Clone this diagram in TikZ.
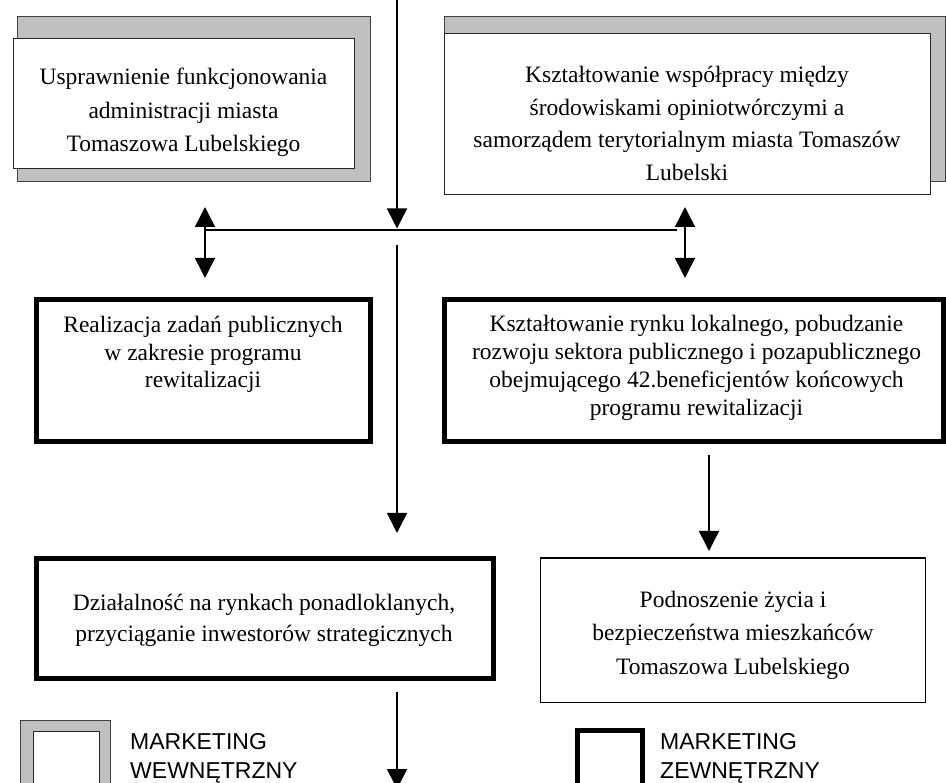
\documentclass[tikz,border=0pt]{standalone}
\usepackage{fontspec}
\setmainfont{Liberation Serif}
\newfontfamily\legfont{Liberation Sans}
\usetikzlibrary{arrows.meta}
\newcommand\stackc[1]{\vtop{\halign{\hfil##\hfil\cr#1\crcr}}}
\newcommand\stackl[1]{\vtop{\halign{##\hfil\cr#1\crcr}}}
\definecolor{shgray}{HTML}{C0C0C0}
\tikzset{
  shadowbox/.style={draw=black!75, line width=0.9pt, fill=shgray, inner sep=0pt, outer sep=0pt},
  whitebox/.style={draw=black!85, line width=0.9pt, fill=white, inner sep=0pt, outer sep=0pt},
  thickbox/.style={draw=black, line width=5pt, fill=white, inner sep=0pt, outer sep=0pt},
  thinbox/.style={draw=black, line width=1.5pt, fill=white, inner sep=0pt, outer sep=0pt},
  boxtext/.style={anchor=base, inner sep=0pt},
  legtext/.style={anchor=base west, inner sep=0pt, font=\legfont\fontsize{23}{28.3}\selectfont},
  conn/.style={line width=1.5pt, -{Triangle[length=20pt,width=20pt]}},
  dconn/.style={line width=1.5pt, {Triangle[length=20pt,width=20pt]}-{Triangle[length=20pt,width=20pt]}},
  hline/.style={line width=2.3pt}
}
\begin{document}
\begin{tikzpicture}[x=1pt,y=-1pt]
\useasboundingbox (0,0) rectangle (946,783);
% top-left box
\node[shadowbox, minimum width=353pt, minimum height=165pt] (s1) at (193.5,98.5) {};
\node[whitebox, minimum width=341pt, minimum height=130pt] (b1) at (183.5,103) {};
\node[boxtext, font=\fontsize{23.5}{33.3}\selectfont] (t1) at (183.5,85)
  {\stackc{Usprawnienie funkcjonowania\cr administracji miasta\cr Tomaszowa Lubelskiego}};
% top-right box
\node[shadowbox, minimum width=501pt, minimum height=165pt] (s2) at (694.5,98.5) {};
\node[whitebox, minimum width=486.7pt, minimum height=160.5pt] (b2) at (687.35,113.75) {};
\node[boxtext, font=\fontsize{23.5}{32.5}\selectfont] (t2) at (687,83)
  {\stackc{Kształtowanie współpracy między\cr środowiskami opiniotwórczymi a\cr samorządem terytorialnym miasta Tomaszów\cr Lubelski}};
% second row
\node[thickbox, minimum width=333.7pt, minimum height=142.3pt] (b3) at (203.35,370.35) {};
\node[boxtext, font=\fontsize{23.5}{27.5}\selectfont] (t3) at (203,332.7)
  {\stackc{Realizacja zadań publicznych\cr w zakresie programu\cr rewitalizacji}};
\node[thickbox, minimum width=499.3pt, minimum height=142.3pt] (b4) at (693.85,370.35) {};
\node[boxtext, font=\fontsize{23.5}{28}\selectfont] (t4) at (696.5,331.7)
  {\stackc{Kształtowanie rynku lokalnego, pobudzanie\cr rozwoju sektora publicznego i pozapublicznego\cr obejmującego 42.beneficjentów końcowych\cr programu rewitalizacji}};
% third row
\node[thickbox, minimum width=456.7pt, minimum height=119.7pt] (b5) at (264.85,618.35) {};
\node[boxtext, font=\fontsize{23.5}{31.7}\selectfont] (t5) at (264,610)
  {\stackc{Działalność na rynkach ponadloklanych,\cr przyciąganie inwestorów strategicznych}};
\node[thinbox, minimum width=385pt, minimum height=144.7pt] (b6) at (733.2,630.35) {};
\node[boxtext, font=\fontsize{23.5}{33.5}\selectfont] (t6) at (733,607)
  {\stackc{Podnoszenie życia i\cr bezpieczeństwa mieszkańców\cr Tomaszowa Lubelskiego}};
% legend
\node[shadowbox, minimum width=90pt, minimum height=80pt] (lg1) at (65.7,760) {};
\node[whitebox, minimum width=66pt, minimum height=74pt] (lw1) at (66,768) {};
\node[legtext] (lt1) at (130,749.7) {\stackl{MARKETING\cr WEWNĘTRZNY}};
\node[thickbox, minimum width=65pt, minimum height=74.5pt] (lg2) at (610,767.75) {};
\node[legtext] (lt2) at (660,749.7) {\stackl{MARKETING\cr ZEWNĘTRZNY}};
% connector points
\coordinate (a0) at (397,-3);
\coordinate (a1) at (397,228.5);
\coordinate (hL) at (205,230);
\coordinate (hR) at (677,230);
\coordinate (lu) at (205,207);
\coordinate (ld) at (205,278);
\coordinate (ru) at (685,207);
\coordinate (rd) at (685,278);
\coordinate (m0) at (397,245);
\coordinate (m1) at (397,533);
\coordinate (r0) at (709,455);
\coordinate (r1) at (709,551);
\coordinate (d0) at (397,692);
\coordinate (d1) at (397,789);
% connectors
\draw[conn] (a0) -- (a1);
\draw[hline] (hL) -- (hR);
\draw[dconn] (lu) -- (ld);
\draw[dconn] (ru) -- (rd);
\draw[conn] (m0) -- (m1);
\draw[conn] (r0) -- (r1);
\draw[conn] (d0) -- (d1);
\end{tikzpicture}
\end{document}
